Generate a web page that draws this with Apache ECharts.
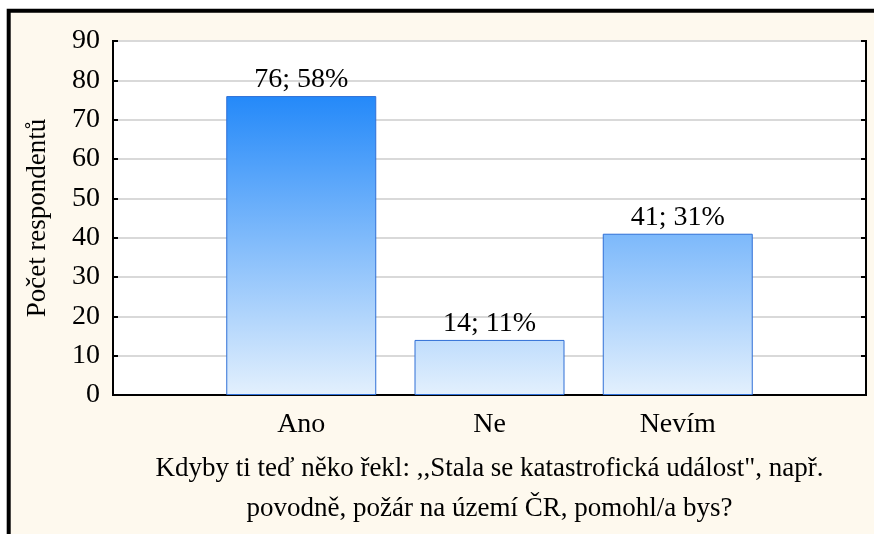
<!DOCTYPE html>
<html>
<head>
<meta charset="utf-8">
<script src="https://cdn.jsdelivr.net/npm/echarts@6/dist/echarts.min.js"></script>
<style>
  html, body { margin: 0; padding: 0; background: #fff; }
  #chart { width: 874px; height: 534px; }
</style>
</head>
<body>
<div id="chart"></div>
<script>
// data
const categories = ['Ano', 'Ne', 'Nevím'];
const counts = [76, 14, 41];
const percents = [58, 11, 31];
const yTicks = [0, 10, 20, 30, 40, 50, 60, 70, 80, 90];

const xTitle = 'Kdyby ti teď něko řekl: ,,Stala se katastrofická událost", např.\npovodně, požár na území ČR, pomohl/a bys?';
const yTitle = 'Počet respondentů';

// empty slot on both sides, like the original plot
const slots = [''].concat(categories, ['']);
const barData = ['-'].concat(counts, ['-']);

const font = 'Liberation Serif, Times New Roman, serif';

let myChart = echarts.init(document.getElementById('chart'));
let option = {
  backgroundColor: 'transparent',
  animation: false,
  graphic: [
    {
      type: 'rect',
      z: -10,
      shape: { x: 8.7, y: 10.8, width: 900, height: 600 },
      style: { fill: '#fef9ee', stroke: '#000', lineWidth: 4 }
    }
  ],
  grid: {
    left: 113,
    top: 41,
    right: 8,
    bottom: 139,
    show: true,
    backgroundColor: '#fff',
    borderColor: '#000',
    borderWidth: 2
  },
  xAxis: {
    type: 'category',
    data: slots,
    boundaryGap: false,
    axisLine: { lineStyle: { color: '#000', width: 2 } },
    axisTick: {
      inside: true,
      length: 5,
      lineStyle: { color: '#000', width: 2 },
      interval: function (i) { return i > 0 && i < slots.length - 1; }
    },
    axisLabel: {
      color: '#000',
      fontFamily: font,
      fontSize: 28,
      margin: 16,
      interval: 0
    },
    name: xTitle,
    nameLocation: 'middle',
    nameGap: 54,
    nameTextStyle: {
      color: '#000',
      fontFamily: font,
      fontSize: 27,
      lineHeight: 40
    }
  },
  yAxis: [
    {
      type: 'value',
      min: yTicks[0],
      max: yTicks[yTicks.length - 1],
      interval: 10,
      axisLine: { show: true, lineStyle: { color: '#000', width: 2 } },
      axisTick: { show: true, inside: true, length: 5, lineStyle: { color: '#000', width: 2 } },
      splitLine: { lineStyle: { color: '#d9d9d9', width: 2 } },
      axisLabel: {
        color: '#000',
        fontFamily: font,
        fontSize: 28,
        margin: 13
      },
      name: yTitle,
      nameLocation: 'middle',
      nameGap: 62,
      nameTextStyle: {
        color: '#000',
        fontFamily: font,
        fontSize: 27
      }
    },
    {
      type: 'value',
      position: 'right',
      min: yTicks[0],
      max: yTicks[yTicks.length - 1],
      interval: 10,
      axisLine: { show: true, lineStyle: { color: '#000', width: 2 } },
      axisTick: { show: true, inside: true, length: 5, lineStyle: { color: '#000', width: 2 } },
      splitLine: { show: false },
      axisLabel: { show: false }
    }
  ],
  series: [
    {
      type: 'bar',
      data: barData,
      barWidth: 150,
      itemStyle: {
        color: new echarts.graphic.LinearGradient(0, 96, 0, 395, [
          { offset: 0, color: '#2489f9' },
          { offset: 1, color: '#e3f0fd' }
        ], true),
        borderColor: '#2f6fd6',
        borderWidth: 1
      },
      label: {
        show: true,
        position: 'top',
        distance: 2,
        color: '#000',
        fontFamily: font,
        fontSize: 28,
        formatter: function (p) {
          let i = p.dataIndex - 1;
          return counts[i] + '; ' + percents[i] + '%';
        }
      }
    }
  ]
};
myChart.setOption(option);
</script>
</body>
</html>
